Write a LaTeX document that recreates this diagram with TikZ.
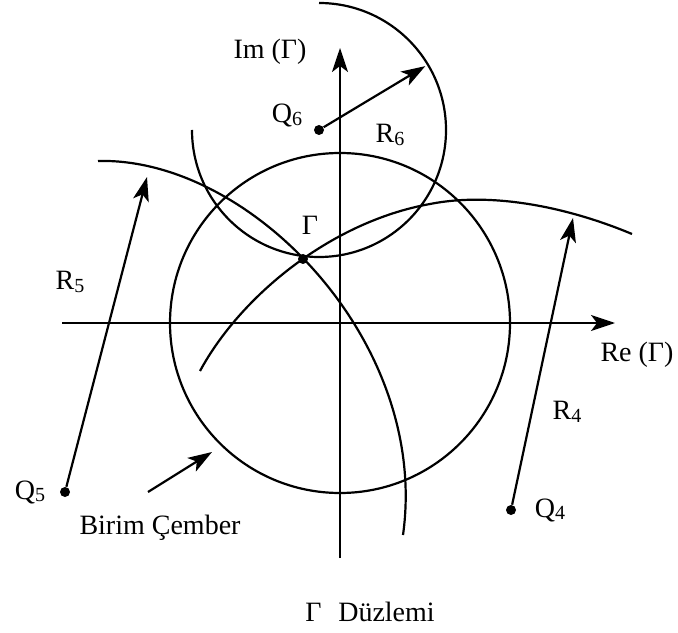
\documentclass[tikz,border=0pt]{standalone}
\usepackage{fontspec}
\setmainfont{Liberation Serif}
\usetikzlibrary{arrows.meta,positioning,calc}

\newcommand{\idx}[1]{\raisebox{-0.2ex}{\fontsize{10}{12}\selectfont #1}}

\begin{document}
\begin{tikzpicture}[x=0.5pt, y=0.5pt,
    font=\fontsize{14}{16}\selectfont,
    curve/.style={line width=1.1pt},
    arrow/.style={-{Stealth[length=12pt, width=8pt, inset=3pt]}, line width=1.1pt},
    dot/.style={circle, fill, inner sep=0pt, minimum size=5pt}
]
    \useasboundingbox (0,0) rectangle (678,632);

    % axes
    \coordinate (O) at (340,309);
    \coordinate (xl) at (62,309);
    \coordinate (xr) at (615,309);
    \coordinate (yb) at (340,74);
    \coordinate (yt) at (340,584);
    \draw[arrow] (xl) -- (xr);
    \draw[arrow] (yb) -- (yt);
    \node (re) at (637,277) {Re (Γ)};
    \node (im) at (270,580) {Im (Γ)};

    % birim cember
    \draw[curve] (O) circle[radius=170];

    % centers
    \node[dot] (Q6) at (319,502) {};
    \node[dot] (Q5) at (65,140) {};
    \node[dot] (Q4) at (511,122) {};
    \node[dot] (G) at (303,373) {};

    \node (q6) at (287,516) {Q\idx{6}};
    \node (q5) at (30,140) {Q\idx{5}};
    \node (q4) at (550,122) {Q\idx{4}};
    \node (g) at (310,407) {Γ};

    % circles of the three centers
    \draw[curve] (Q6.center) ++(180:127) arc[start angle=180, end angle=450, radius=127];
    \draw[curve] (98,471) .. controls (250,475) and (430,290) .. (403,97);
    \draw[curve] (200,261) .. controls (240,335) and (330,410) .. (430,428)
        .. controls (490,440) and (565,426) .. (632,398);

    % radii
    \coordinate (r6tip) at ($(Q6.center)+(31:124)$);
    \coordinate (r5tip) at (147,455);
    \coordinate (r4tip) at (573,414);
    \draw[arrow] (Q6) -- (r6tip);
    \draw[arrow] (Q5) -- (r5tip);
    \draw[arrow] (Q4) -- (r4tip);
    \node (r6) at (390,497) {R\idx{6}};
    \node (r5) at (70,350) {R\idx{5}};
    \node (r4) at (567,220) {R\idx{4}};

    \node (birim) at (160,104) {Birim Çember};
    \coordinate (bs) at (148,140);
    \coordinate (bt) at (212,180);
    \draw[arrow] (bs) -- (bt);

    \node (title) at (370,20) {Γ\hspace{0.6em}Düzlemi};
\end{tikzpicture}
\end{document}
